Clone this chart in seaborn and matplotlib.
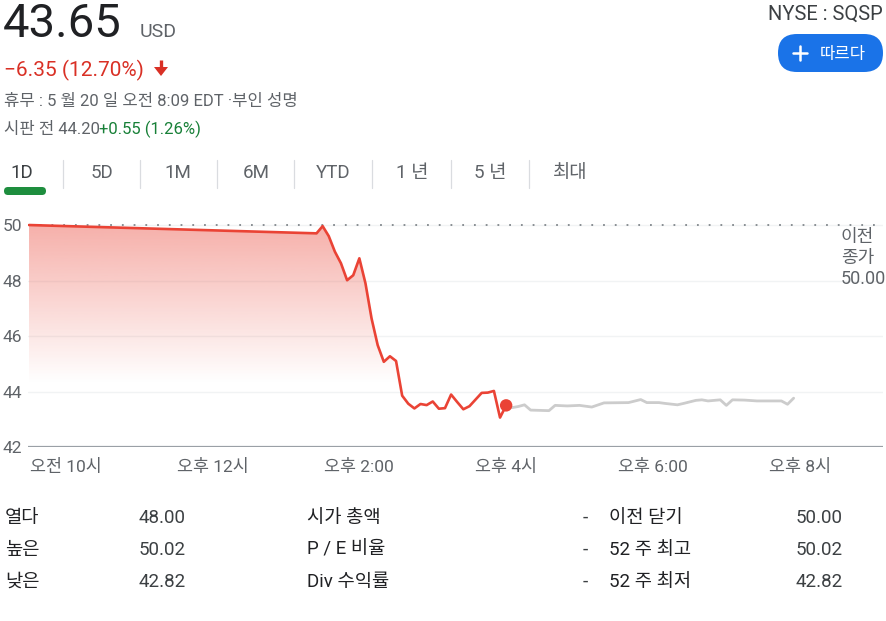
import numpy as np
import pandas as pd
import matplotlib
matplotlib.use('Agg')
import matplotlib.pyplot as plt
import seaborn as sns
from matplotlib.patches import FancyBboxPatch
from matplotlib.colors import to_rgb

# ---- data ----
# regular session (red) : time, price
reg_time = ['09:30', '13:25', '13:30', '13:35', '13:40', '13:45', '13:50', '13:55',
            '14:00', '14:05', '14:10', '14:15', '14:20', '14:25', '14:30', '14:35',
            '14:40', '14:45', '14:50', '14:55', '15:00', '15:05', '15:10', '15:15',
            '15:20', '15:25', '15:30', '15:35', '15:40', '15:45', '15:50', '15:55', '16:00']
reg_price = [50.00, 49.70, 49.96, 49.60, 49.04, 48.62, 48.01, 48.19,
             48.80, 47.90, 46.63, 45.67, 45.07, 45.27, 45.10, 43.85,
             43.56, 43.39, 43.55, 43.51, 43.64, 43.38, 43.40, 43.89,
             43.62, 43.36, 43.47, 43.71, 43.95, 43.96, 44.02, 43.06, 43.50]

# after hours (gray)
ext_time = ['16:00', '16:05', '16:10', '16:15', '16:20', '16:35', '16:40', '16:50',
            '17:00', '17:10', '17:20', '17:40', '17:50', '17:55', '18:05', '18:10',
            '18:20', '18:25', '18:35', '18:40', '18:45', '18:55', '19:00', '19:05',
            '19:15', '19:25', '19:45', '19:50', '19:55']
ext_price = [43.50, 43.42, 43.46, 43.52, 43.33, 43.31, 43.50, 43.48,
             43.50, 43.44, 43.59, 43.60, 43.71, 43.60, 43.60, 43.57,
             43.52, 43.57, 43.68, 43.70, 43.66, 43.70, 43.50, 43.70,
             43.69, 43.66, 43.66, 43.54, 43.76]

prev_close = 50.00
y_ticks = [42, 44, 46, 48, 50]
x_ticks = [10, 12, 14, 16, 18, 20]
x_labels = ['오전 10시', '오후 12시', '오후 2:00', '오후 4시', '오후 6:00', '오후 8시']

tabs = ['1D', '5D', '1M', '6M', 'YTD', '1 년', '5 년', '최대']
stat_left = ['열다', '높은', '낮은']
stat_left_val = ['48.00', '50.02', '42.82']
stat_mid = ['시가 총액', 'P / E 비율', 'Div 수익률']
stat_mid_val = ['-', '-', '-']
stat_right = ['이전 닫기', '52 주 최고', '52 주 최저']
stat_right_val = ['50.00', '50.02', '42.82']


def to_hours(t):
  h, m = t.split(':')
  return int(h) + int(m) / 60


reg = pd.DataFrame({'hour': [to_hours(t) for t in reg_time], 'price': reg_price})
ext = pd.DataFrame({'hour': [to_hours(t) for t in ext_time], 'price': ext_price})

sns.set_theme(style='white')
plt.rcParams['font.family'] = ['Roboto', 'Noto Sans CJK KR', 'DejaVu Sans']

RED = '#ea4335'
GRAY_TXT = '#5f6368'
DARK = '#202124'

fig = plt.figure(figsize=(8.86, 6.21), dpi=100)
fig.patch.set_facecolor('white')

# overlay in pixel coordinates for the page text
bg = fig.add_axes([0, 0, 1, 1])
bg.set_xlim(0, 886)
bg.set_ylim(621, 0)
bg.axis('off')

bg.text(3, 37, '43.65', fontsize=34, color=DARK, va='baseline')
bg.text(140, 37, 'USD', fontsize=14, color=GRAY_TXT, va='baseline')
bg.text(4, 76, '\u22126.35 (12.70%)', fontsize=15, color='#d93025', va='baseline')
bg.fill([154, 168, 161], [67, 67, 76], color='#d93025', lw=0)
bg.plot([161, 161], [60, 68], color='#d93025', lw=2.4, solid_capstyle='butt')
bg.text(4, 106, '휴무 : 5 월 20 일 오전 8:09 EDT ·부인 성명', fontsize=12, color=GRAY_TXT, va='baseline')
bg.text(4, 134, '시판 전 44.20', fontsize=12, color=GRAY_TXT, va='baseline')
bg.text(99, 134, '+0.55 (1.26%)', fontsize=12, color='#188038', va='baseline')

bg.text(883, 20, 'NYSE : SQSP', fontsize=14.5, color='#3c4043', ha='right', va='baseline')
bg.add_patch(FancyBboxPatch((778, 34), 105, 38, boxstyle='round,pad=0,rounding_size=19',
                            fc='#1a73e8', ec='none'))
bg.plot([793, 807], [53, 53], color='white', lw=1.8)
bg.plot([800, 800], [46, 60], color='white', lw=1.8)
bg.text(820, 54, '따르다', fontsize=12, color='white', va='center')

# period tabs
tab_x = [22, 102, 178, 256, 333, 412, 490, 570]
for x, t in zip(tab_x, tabs):
  bg.text(x, 173, t, fontsize=13.5, color=GRAY_TXT if t != '1D' else '#3c4043',
          ha='center', va='center')
for x in [63, 140, 217, 294, 372, 451, 529]:
  bg.plot([x, x], [160, 188], color='#dadce0', lw=0.9)
bg.add_patch(FancyBboxPatch((4, 187), 42, 8, boxstyle='round,pad=0,rounding_size=4',
                            fc='#1e8e3e', ec='none'))

# stats table
for i, row_y in enumerate([518, 550, 582]):
  bg.text(5, row_y, stat_left[i], fontsize=13.5, color=DARK, va='center')
  bg.text(186, row_y, stat_left_val[i], fontsize=13.5, color='#3c4043', ha='right', va='center')
  bg.text(307, row_y, stat_mid[i], fontsize=13.5, color=DARK, va='center')
  bg.text(585, row_y, stat_mid_val[i], fontsize=13.5, color='#3c4043', ha='center', va='center')
  bg.text(609, row_y, stat_right[i], fontsize=13.5, color=DARK, va='center')
  bg.text(843, row_y, stat_right_val[i], fontsize=13.5, color='#3c4043', ha='right', va='center')

# ---- price chart ----
ax = fig.add_axes([28 / 886, 1 - 447 / 621, 855 / 886, (447 - 216.7) / 621])
ax.set_facecolor('none')
xmin, xmax = 9.486, 21.134
ymin, ymax = 42, 50.3

# gradient under the regular-session line
poly = ax.fill_between(reg['hour'], reg['price'], ymin, color='none', lw=0)
yy = np.linspace(ymin, 50, 256)
grad = np.zeros((256, 1, 4))
grad[..., :3] = to_rgb(RED)
grad[:, 0, 3] = np.clip((yy - 44.3) / (50 - 44.3), 0, 1) * 0.42
im = ax.imshow(grad, extent=[xmin, xmax, ymin, 50], origin='lower', aspect='auto', zorder=1)
im.set_clip_path(poly.get_paths()[0], transform=ax.transData)

ax.axhline(prev_close, color='#80868b', lw=1.3, dashes=(1, 5.5), zorder=2)
sns.lineplot(data=ext, x='hour', y='price', ax=ax, color='#cccccc', lw=2.0, zorder=3)
sns.lineplot(data=reg, x='hour', y='price', ax=ax, color=RED, lw=1.9, zorder=4)
sns.scatterplot(x=reg['hour'].iloc[-1:], y=reg['price'].iloc[-1:], ax=ax, color=RED,
                s=80, edgecolor='none', zorder=5)

ax.set_xlim(xmin, xmax)
ax.set_ylim(ymin, ymax)
ax.set_xticks(x_ticks, x_labels)
ax.set_yticks(y_ticks)
ax.set_xlabel('')
ax.set_ylabel('')
ax.grid(axis='y', color='#f1f3f4', lw=1)
ax.grid(axis='x', visible=False)
for s in ax.spines.values():
  s.set_visible(False)
ax.axhline(ymin, color='#9aa0a6', lw=1.6, zorder=2)
ax.tick_params(axis='x', length=7.5, width=1.2, color='#9aa0a6', pad=1,
               labelsize=12.5, labelcolor=GRAY_TXT)
ax.tick_params(axis='y', length=0, pad=4, labelsize=12.5, labelcolor=GRAY_TXT)

ax.text(1.0 - 42 / 855, 48.81, '이전\n종가\n50.00', transform=ax.get_yaxis_transform(),
        ha='left', va='center', fontsize=13, color=GRAY_TXT, linespacing=1.2)

fig.savefig('out.png', dpi=100)
